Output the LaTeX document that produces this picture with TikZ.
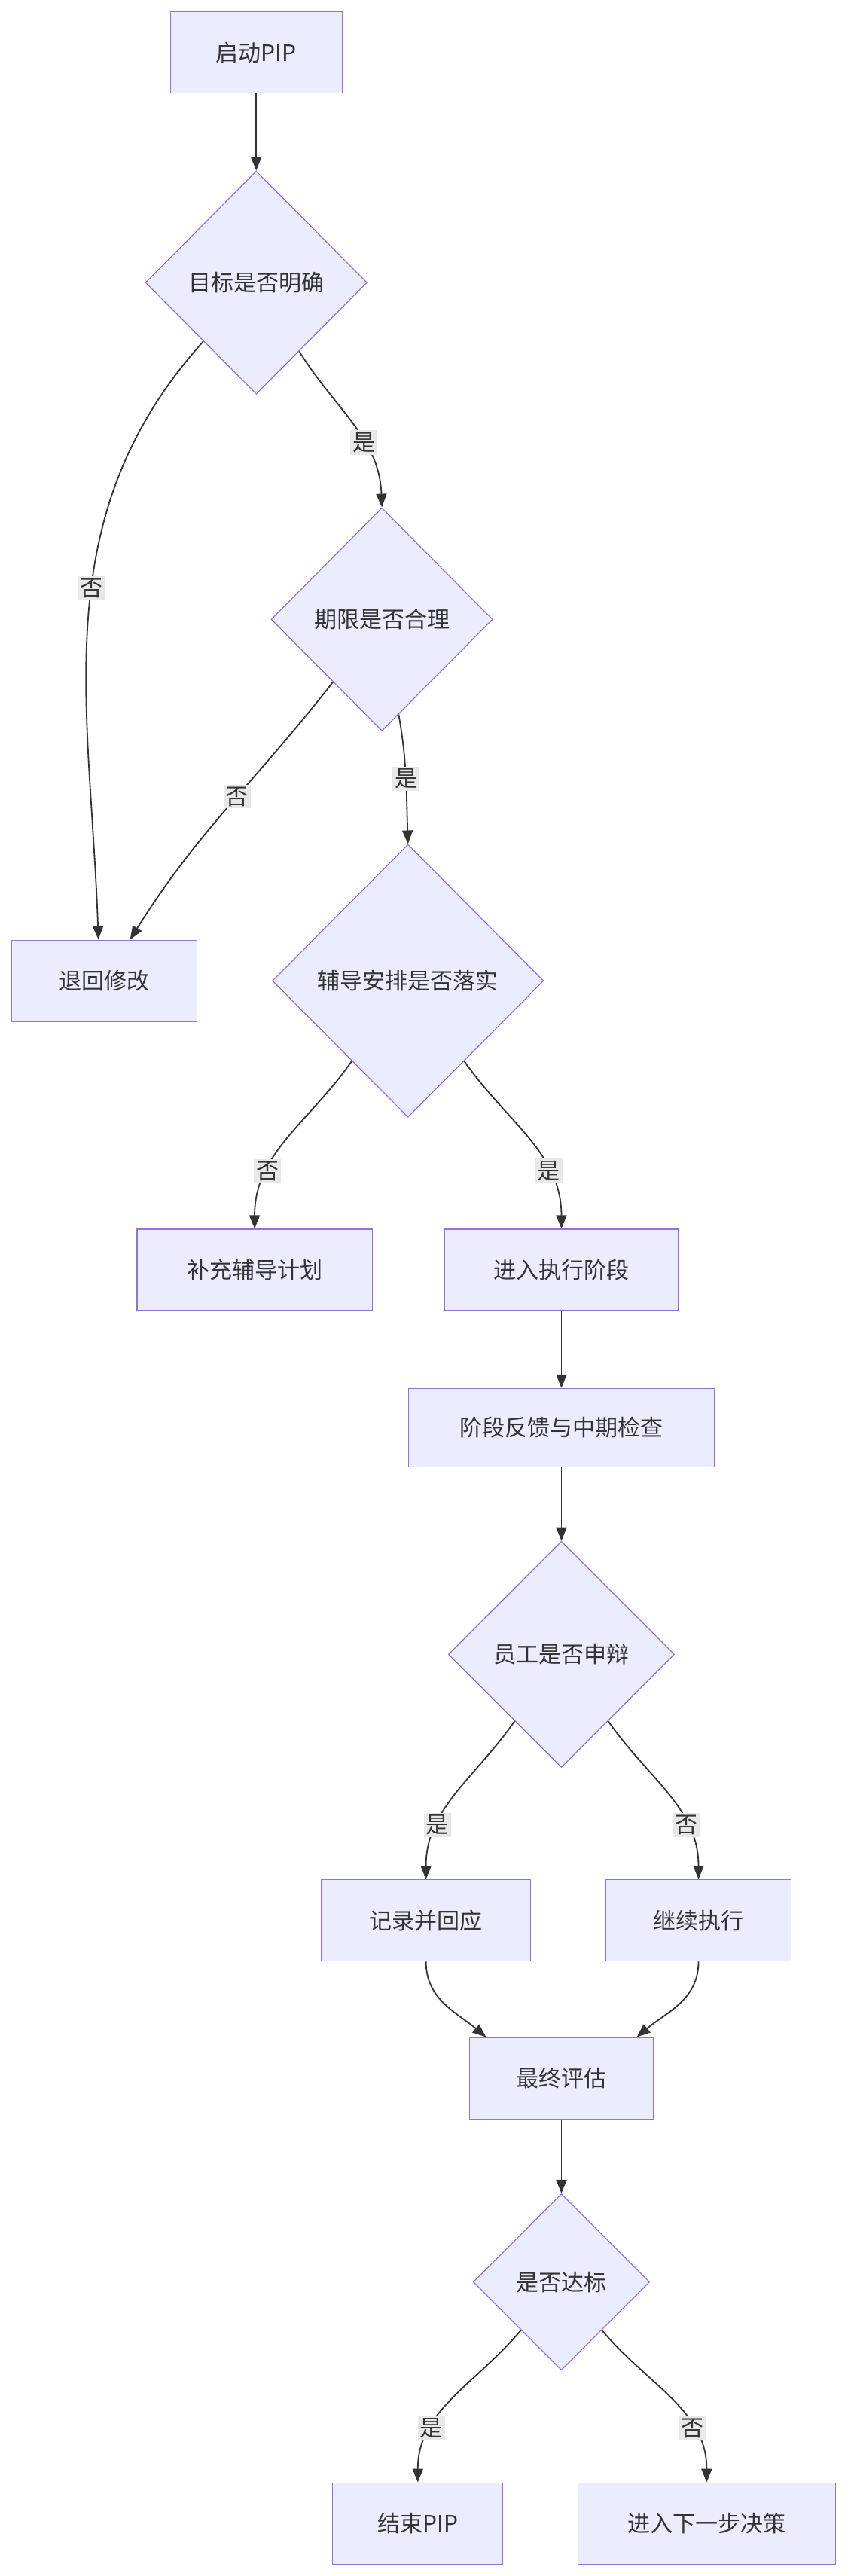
\documentclass[tikz,border=0pt]{standalone}
\usepackage{fontspec}
\setmainfont{Noto Sans CJK SC}
\usetikzlibrary{shapes.geometric,arrows.meta}
\definecolor{boxfill}{HTML}{ECECFF}
\definecolor{boxline}{HTML}{9370DB}
\definecolor{lineclr}{HTML}{333333}
\definecolor{lblfill}{HTML}{E8E8E8}
\begin{document}
\begin{tikzpicture}
		[x=1.083pt, y=-1.09pt,
		every node/.style={font=\fontsize{15pt}{18pt}\selectfont, text=black!80},
		box/.style={draw=boxline, fill=boxfill, line width=0.6pt, minimum height=54pt},
		dia/.style={diamond, draw=boxline, fill=boxfill, line width=0.6pt, inner sep=0pt},
		lbl/.style={fill=lblfill, inner sep=1.5pt},
		arr/.style={draw=lineclr, line width=0.9pt, -{Triangle[length=9pt,width=7pt]}},
		]
		\useasboundingbox (0,0) rectangle (523,1568);

		\node[box, minimum width=114pt] (start) at (157,32) {启动PIP};
		\node[dia, minimum width=147pt, minimum height=148pt] (goal) at (157,172) {目标是否明确};
		\node[dia, minimum width=147pt, minimum height=148pt] (term) at (234,377) {期限是否合理};
		\node[box, minimum width=123pt] (back) at (64,597) {退回修改};
		\node[dia, minimum width=180pt, minimum height=181pt] (coach) at (250,597) {辅导安排是否落实};
		\node[box, minimum width=156pt] (supp) at (156,773) {补充辅导计划};
		\node[box, minimum width=155pt] (exec) at (344,773) {进入执行阶段};
		\node[box, minimum width=203pt, minimum height=52pt] (check) at (344,869) {阶段反馈与中期检查};
		\node[dia, minimum width=150pt, minimum height=150pt] (appeal) at (344,1007) {员工是否申辩};
		\node[box, minimum width=139pt] (record) at (261,1169) {记录并回应};
		\node[box, minimum width=123pt] (cont) at (428,1169) {继续执行};
		\node[box, minimum width=122pt] (final) at (344,1265) {最终评估};
		\node[dia, minimum width=117pt, minimum height=117pt] (pass) at (344,1389) {是否达标};
		\node[box, minimum width=113pt] (stop) at (256,1536) {结束PIP};
		\node[box, minimum width=171pt] (next) at (433,1536) {进入下一步决策};

		\draw[arr] (start) -- (goal);
		\draw[arr] (goal) to[out=-58, in=92] node[lbl, pos=0.62]{是} (term.north);
		\draw[arr] (goal) to[out=-132, in=92] node[lbl, pos=0.45]{否} ([xshift=-4pt]back.north);
		\draw[arr] (term) to[out=-128, in=58] node[lbl, pos=0.45]{否} ([xshift=17pt]back.north);
		\draw[arr] (term) to[out=-80, in=92] node[lbl, pos=0.5]{是} (coach.north);
		\draw[arr] (coach) to[out=-125, in=90] node[lbl, pos=0.7]{否} (supp.north);
		\draw[arr] (coach) to[out=-55, in=90] node[lbl, pos=0.7]{是} (exec.north);
		\draw[arr] (exec) -- (check);
		\draw[arr] (check) -- (appeal);
		\draw[arr] (appeal) to[out=-125, in=90] node[lbl, pos=0.7]{是} (record.north);
		\draw[arr] (appeal) to[out=-55, in=90] node[lbl, pos=0.7]{否} (cont.north);
		\draw[arr] (record.south) to[out=-90, in=140] ([xshift=-50pt]final.north);
		\draw[arr] (cont.south) to[out=-90, in=40] ([xshift=50pt]final.north);
		\draw[arr] (final) -- (pass);
		\draw[arr] (pass) to[out=-130, in=90] node[lbl, pos=0.7]{是} (stop.north);
		\draw[arr] (pass) to[out=-50, in=90] node[lbl, pos=0.7]{否} (next.north);
	\end{tikzpicture}
\end{document}
